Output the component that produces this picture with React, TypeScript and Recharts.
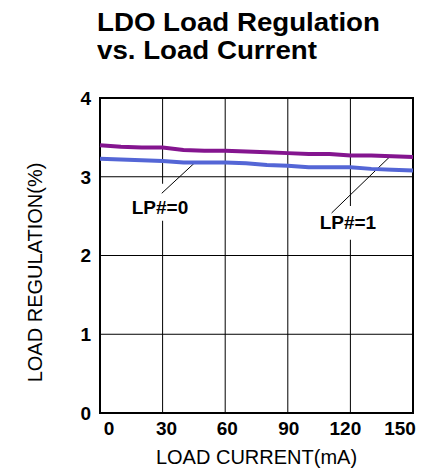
import {
  LineChart,
  Line,
  XAxis,
  YAxis,
  CartesianGrid,
  ReferenceArea,
  ReferenceLine,
  ReferenceDot,
  Label,
} from "recharts";

const loadCurrent = [0, 10, 20, 30, 40, 50, 60, 70, 80, 90, 100, 110, 120, 130, 140, 150];
const lp0 = [3.23, 3.22, 3.21, 3.2, 3.18, 3.18, 3.18, 3.17, 3.15, 3.14, 3.12, 3.12, 3.12, 3.1, 3.09, 3.08];
const lp1 = [3.4, 3.38, 3.37, 3.37, 3.34, 3.33, 3.33, 3.32, 3.31, 3.3, 3.29, 3.29, 3.27, 3.27, 3.26, 3.25];

const xTicks = [0, 30, 60, 90, 120, 150];
const yTicks = [0, 1, 2, 3, 4];

const data = loadCurrent.map((c, i) => ({ current: c, lp0: lp0[i], lp1: lp1[i] }));

const FONT = '"Liberation Sans", Arial, sans-serif';
const PURPLE = "#84158f";
const BLUE = "#5466d6";

// nudges so the end labels sit inside the frame like the original
const xTickShift = [9, 4, 2, 1, -5, -9];

function XTick({ x, y, payload, index }: any) {
  return (
    <text
      x={x + (xTickShift[index] ?? 0)}
      y={y}
      dy={22}
      textAnchor="middle"
      fontFamily={FONT}
      fontWeight="bold"
      fontSize={19}
      fill="#000"
    >
      {payload.value}
    </text>
  );
}

function YTick({ x, y, payload }: any) {
  return (
    <text
      x={x - 9}
      y={y}
      dy="0.36em"
      textAnchor="end"
      fontFamily={FONT}
      fontWeight="bold"
      fontSize={19}
      fill="#000"
    >
      {payload.value}
    </text>
  );
}

function YTitle({ viewBox }: any) {
  const cx = 35;
  const cy = viewBox.y + viewBox.height / 2 + 17;
  return (
    <text
      x={cx}
      y={cy}
      transform={`rotate(-90 ${cx} ${cy})`}
      textAnchor="middle"
      dy="0.36em"
      fontFamily={FONT}
      fontSize={20}
      fill="#000"
    >
      LOAD REGULATION(%)
    </text>
  );
}

function XTitle({ viewBox }: any) {
  return (
    <text
      x={viewBox.x + viewBox.width / 2}
      y={464}
      textAnchor="middle"
      fontFamily={FONT}
      fontSize={20}
      fill="#000"
    >
      LOAD CURRENT(mA)
    </text>
  );
}

const noteStyle = { fontFamily: FONT, fontSize: 19, fontWeight: "bold", fill: "#000" };

const titleLine = {
  fontFamily: FONT,
  fontWeight: "bold" as const,
  fontSize: 25,
  lineHeight: "28px",
  height: 28,
  color: "#000",
  whiteSpace: "nowrap" as const,
};

export default function App() {
  return (
    <div style={{ position: "absolute", left: 0, top: 0, width: 421, height: 470, background: "#fff" }}>
      <div
        style={{
          position: "absolute",
          left: 97,
          top: 8,
          transform: "scaleX(1.107)",
          transformOrigin: "left top",
        }}
      >
        <div style={titleLine}>LDO Load Regulation</div>
        <div style={titleLine}>vs. Load Current</div>
      </div>
      <LineChart
        width={421}
        height={470}
        data={data}
        margin={{ top: 98, right: 8, bottom: 0, left: 0 }}
      >
        <CartesianGrid stroke="#000" strokeWidth={1} />
        <XAxis
          dataKey="current"
          type="number"
          domain={[0, 150]}
          ticks={xTicks}
          height={57}
          axisLine={false}
          tickLine={false}
          tickSize={0}
          tickMargin={0}
          tick={<XTick />}
        >
          <Label content={<XTitle />} />
        </XAxis>
        <YAxis
          type="number"
          domain={[0, 4]}
          ticks={yTicks}
          width={100}
          axisLine={false}
          tickLine={false}
          tickSize={0}
          tickMargin={0}
          tick={<YTick />}
        >
          <Label content={<YTitle />} />
        </YAxis>

        <ReferenceArea x1={14.4} x2={44} y1={2.44} y2={2.91} fill="#fff" fillOpacity={1} stroke="none" />
        <ReferenceArea x1={104.5} x2={133} y1={2.2} y2={2.63} fill="#fff" fillOpacity={1} stroke="none" />

        <ReferenceLine
          segment={[
            { x: 29.6, y: 2.79 },
            { x: 45.5, y: 3.18 },
          ]}
          stroke="#000"
          strokeWidth={1}
        />
        <ReferenceLine
          segment={[
            { x: 111, y: 2.54 },
            { x: 139.5, y: 3.27 },
          ]}
          stroke="#000"
          strokeWidth={1}
        />

        <ReferenceDot x={28.75} y={2.616} r={0} fill="none" stroke="none">
          <Label value="LP#=0" position="center" {...noteStyle} />
        </ReferenceDot>
        <ReferenceDot x={118.8} y={2.425} r={0} fill="none" stroke="none">
          <Label value="LP#=1" position="center" {...noteStyle} />
        </ReferenceDot>

        <Line
          type="linear"
          dataKey="lp1"
          stroke={PURPLE}
          strokeWidth={4}
          dot={false}
          isAnimationActive={false}
        />
        <Line
          type="linear"
          dataKey="lp0"
          stroke={BLUE}
          strokeWidth={4}
          dot={false}
          isAnimationActive={false}
        />

        <ReferenceArea x1={0} x2={150} y1={0} y2={4} fill="none" stroke="#000" strokeWidth={2} />
      </LineChart>
    </div>
  );
}
